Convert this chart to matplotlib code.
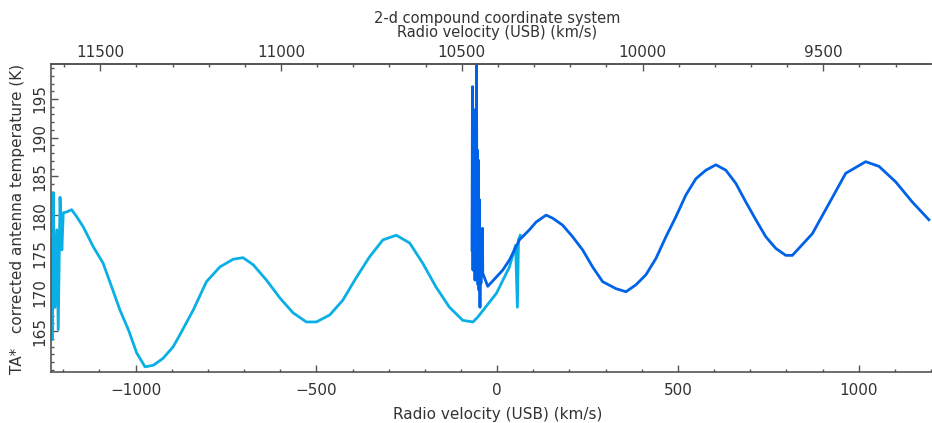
import matplotlib
matplotlib.use("Agg")
import matplotlib.pyplot as plt
from matplotlib.ticker import MultipleLocator

# ---
# DATA
# ----
# first sideband segment (light blue)
cyan_vel = [-1232, -1231, -1228, -1223, -1218, -1214, -1209, -1204, -1200, -1191,
            -1177, -1163, -1145, -1117, -1090, -1066, -1043, -1020, -997, -974,
            -951, -924, -896, -878, -841, -804, -767, -730, -703, -675,
            -638, -601, -565, -528, -500, -463, -427, -390, -353, -316,
            -279, -242, -206, -169, -132, -95, -67, -54, -2, 34,
            51, 56, 59, 64]
cyan_temp = [176.8, 163.9, 182.9, 168.1, 178.1, 165.2, 182.3, 175.5, 180.3, 180.4,
             180.7, 179.8, 178.5, 175.9, 173.8, 170.7, 167.7, 165.2, 162.2, 160.4,
             160.6, 161.5, 163.0, 164.5, 167.7, 171.4, 173.3, 174.3, 174.5, 173.6,
             171.6, 169.3, 167.4, 166.2, 166.2, 167.1, 169.0, 171.9, 174.6, 176.8,
             177.4, 176.4, 173.8, 170.7, 168.1, 166.4, 166.2, 166.8, 169.9, 173.3,
             176.1, 168.1, 176.8, 177.4]

# second segment (dark blue)
blue_vel = [-69.6, -68.2, -66.9, -65.5, -64.1, -62.7, -61.3, -59.9, -58.6, -57.2,
            -55.8, -54.4, -53.0, -51.7, -50.3, -48.9, -47.5, -46.1, -44.8, -43.4,
            -40.6, -39.8, -26.0, -10.0, 15.5, 34.0, 61.6, 89.2, 107.7, 135.4,
            153.6, 181.2, 208.8, 236.5, 264.1, 291.7, 328.7, 356.4, 384.0, 411.6,
            439.2, 466.9, 494.5, 522.1, 549.7, 577.3, 605.0, 632.6, 660.2, 687.8,
            715.5, 743.1, 770.7, 798.3, 816.6, 871.8, 918.0, 964.1, 1019.3, 1056.1,
            1102.2, 1148.1, 1194.2]
blue_temp = [175.5, 196.6, 172.9, 192.3, 174.2, 193.6, 171.6, 189.7, 173.6, 201.0,
             175.5, 188.4, 171.0, 187.1, 170.3, 182.0, 168.1, 178.1, 171.2, 175.0,
             178.3, 172.5, 170.8, 171.6, 172.9, 174.2, 176.8, 178.1, 179.1, 180.0,
             179.6, 178.7, 177.2, 175.5, 173.3, 171.4, 170.5, 170.1, 171.0, 172.3,
             174.4, 177.2, 179.8, 182.6, 184.7, 185.8, 186.5, 185.8, 184.1, 181.7,
             179.4, 177.2, 175.7, 174.8, 174.8, 177.6, 181.5, 185.4, 186.9, 186.3,
             184.3, 181.7, 179.4]

bottom_ticks = [-1000, -500, 0, 500, 1000]
top_ticks = [9500, 10000, 10500, 11000, 11500]
y_ticks = [165, 170, 175, 180, 185, 190, 195]

# the top axis is the other sideband: v_top = offset - v_bottom
top_offset = 10402.2

# ---
# PLOT
# -----
plt.rcParams["font.family"] = ["DejaVu Sans"]
fs = 11
tick_col = "#333333"
spine_col = "#555555"

fig = plt.figure(figsize=(9.32, 4.23), dpi=100)
ax = fig.add_axes([51 / 932, 1 - 371.7 / 423, 880 / 932, (371.7 - 64) / 423])

ax.plot(cyan_vel, cyan_temp, color="#0aafe6", lw=2.0)
ax.plot(blue_vel, blue_temp, color="#0062e8", lw=2.0)

ax.set_xlim(-1234, 1200)
ax.set_ylim(159.77, 199.52)

ax.set_xticks(bottom_ticks)
ax.xaxis.set_minor_locator(MultipleLocator(100))
ax.set_yticks(y_ticks)
ax.yaxis.set_minor_locator(MultipleLocator(1))

for s in ["left", "bottom", "top"]:
    ax.spines[s].set_color(spine_col)
    ax.spines[s].set_linewidth(1.2)
ax.spines["right"].set_visible(False)

ax.tick_params(which="both", direction="in", colors=spine_col, labelcolor=tick_col,
               labelsize=fs, right=False, top=False)
ax.tick_params(which="major", length=5, width=1)
ax.tick_params(which="minor", length=2.5, width=1)
ax.tick_params(axis="x", pad=8)
ax.tick_params(axis="y", pad=3)
for lab in ax.get_yticklabels():
    lab.set_rotation(90)
    lab.set_va("center")

top = ax.secondary_xaxis("top", functions=(lambda v: top_offset - v,
                                           lambda v: top_offset - v))
top.set_xticks(top_ticks)
top.xaxis.set_minor_locator(MultipleLocator(100))
top.spines["top"].set_color(spine_col)
top.spines["top"].set_linewidth(1.2)
top.tick_params(which="both", direction="in", colors=spine_col, labelcolor=tick_col,
                labelsize=fs, pad=3)
top.tick_params(which="major", length=5, width=1)
top.tick_params(which="minor", length=2.5, width=1)

fig.text(497.5 / 932, 1 - 18 / 423, "2-d compound coordinate system",
         ha="center", va="center", fontsize=10.5, color=tick_col)
fig.text(497.5 / 932, 1 - 32.5 / 423, "Radio velocity (USB) (km/s)",
         ha="center", va="center", fontsize=10.5, color=tick_col)
fig.text(497.5 / 932, 1 - 414 / 423, "Radio velocity (USB) (km/s)",
         ha="center", va="center", fontsize=fs, color=tick_col)
fig.text(18 / 932, 1 - 219 / 423, "TA*   corrected antenna temperature (K)",
         ha="center", va="center", rotation=90, fontsize=fs, color=tick_col)

fig.savefig("out.png", dpi=100)
